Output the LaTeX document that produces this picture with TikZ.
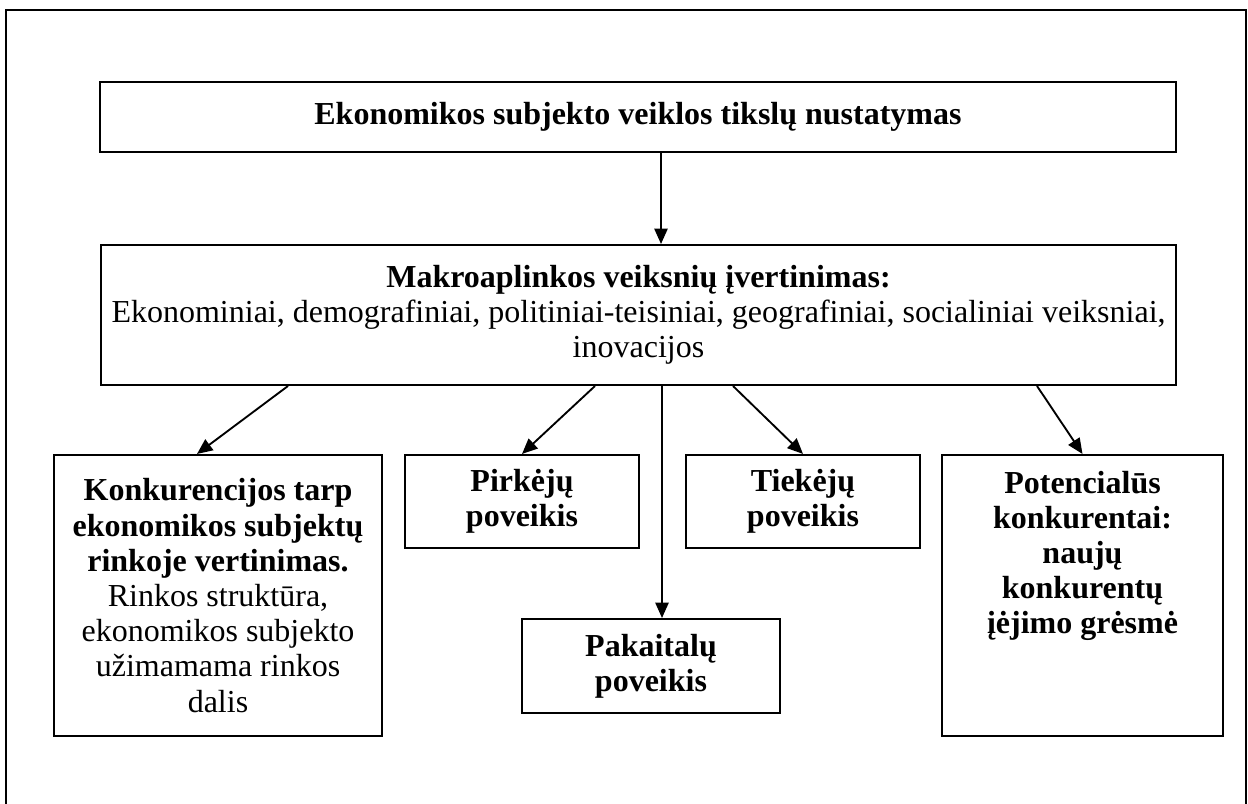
\documentclass[tikz,border=0pt]{standalone}
\usepackage{fontspec}
\setmainfont{Liberation Serif}
\usetikzlibrary{calc, arrows.meta}

\begin{document}
\begin{tikzpicture}[x=0.375pt, y=-0.375pt, line width=0.7pt,
        >={Triangle[length=5.8pt, width=5pt]},
        box/.style = {draw, line width=0.75pt, inner sep=0pt, align=center,
            font=\fontsize{12pt}{13.2pt}\selectfont},
        boldbox/.style = {box, font=\fontsize{12pt}{13.2pt}\selectfont\bfseries},
        txt/.style = {inner sep=0pt, align=center,
            font=\fontsize{12pt}{13.2pt}\selectfont\bfseries}]
        \useasboundingbox (0,0) rectangle (1248,804);
        \draw[line width=0.75pt] (6,10) rectangle (1246,840);

        \node[boldbox, minimum width=403.5pt, minimum height=26.25pt](Tikslai) at (638, 117)
            {Ekonomikos subjekto veiklos tikslų nustatymas};
        \node[box, minimum width=403.1pt, minimum height=52.5pt](Makro) at (638.5, 315)
            {\textbf{Makroaplinkos veiksnių įvertinimas:}\\
             Ekonominiai, demografiniai, politiniai-teisiniai, geografiniai, socialiniai veiksniai,\\
             inovacijos};

        \path[->] ($(Tikslai.south)+(23,0)$) edge node {}($(Makro.north)+(22.5,0)$);

        \node[box, minimum width=123pt, minimum height=105.4pt](Konk) at (218, 595.5)
            {\textbf{Konkurencijos tarp}\\ \textbf{ekonomikos subjektų}\\ \textbf{rinkoje vertinimas.}\\
             Rinkos struktūra,\\ ekonomikos subjekto\\ užimamama rinkos\\ dalis};
        \node[boldbox, minimum width=87.75pt, minimum height=34.9pt](Pirk) at (522, 501.5)
            {Pirkėjų\\ poveikis};
        \node[boldbox, minimum width=87.75pt, minimum height=34.9pt](Tiek) at (803, 501.5)
            {Tiekėjų\\ poveikis};
        \node[boldbox, minimum width=96.75pt, minimum height=35.25pt](Pakait) at (651, 666)
            {Pakaitalų\\ poveikis};
        \node[box, minimum width=105.4pt, minimum height=105.4pt](Potenc) at (1082.5, 595.5) {};
        \node[txt, anchor=north](Potenc_t) at ($(Potenc.north)+(0,16)$)
            {Potencialūs\\ konkurentai:\\ naujų\\ konkurentų\\ įėjimo grėsmė};

        \path[->] ($(Makro.south)+(-350.5,0)$) edge node {}($(Konk.north)+(-21,0)$);
        \path[->] ($(Makro.south)+(-43.5,0)$) edge node {}(Pirk.north);
        \path[->] ($(Makro.south)+(23.5,0)$) edge node {}($(Pakait.north)+(11,0)$);
        \path[->] ($(Makro.south)+(94.5,0)$) edge node {}(Tiek.north);
        \path[->] ($(Makro.south)+(398.5,0)$) edge node {}(Potenc.north);
    \end{tikzpicture}
\end{document}
